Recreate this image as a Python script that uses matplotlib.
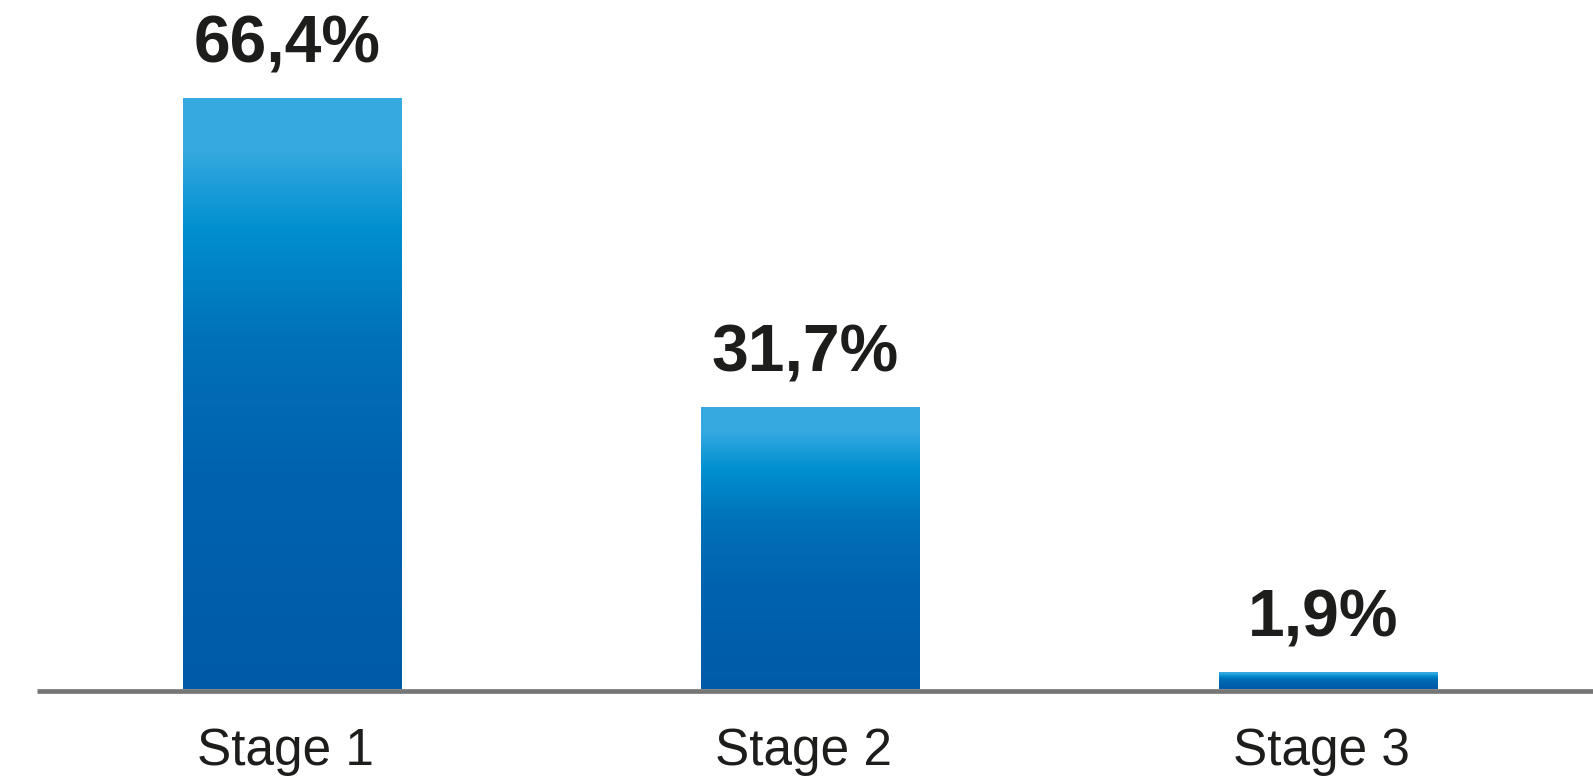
import numpy as np
import matplotlib
matplotlib.use("Agg")
import matplotlib.pyplot as plt
from matplotlib.colors import LinearSegmentedColormap
from matplotlib.transforms import offset_copy

# data
stages = ["Stage 1", "Stage 2", "Stage 3"]
shares = [66.4, 31.7, 1.9]
share_labels = ["66,4%", "31,7%", "1,9%"]

plt.rcParams['font.family'] = ['Liberation Sans', 'DejaVu Sans']
text_color = '#1d1d1b'

# top -> bottom gradient of each bar
grad = LinearSegmentedColormap.from_list(
    'bar_grad',
    [(0.0, '#36aae1'), (0.09, '#35a9e0'), (0.22, '#0090d0'),
     (0.41, '#0071b9'), (0.63, '#0063b0'), (1.0, '#005aa7')])

W, H = 1593, 782
fig = plt.figure(figsize=(W / 100, H / 100), dpi=100)
ax = fig.add_axes([0, 93 / H, 1, 689 / H])

x = np.arange(len(stages))
px_step = 518.0
x0_px = 292.5
ax.set_xlim(-x0_px / px_step, (W - x0_px) / px_step)
ax.set_ylim(0, 77.4)

bar_w = 219 / px_step
bars = ax.bar(x, shares, width=bar_w, color='none', edgecolor='none')
g = np.linspace(0, 1, 256).reshape(-1, 1)
for b in bars:
    x_left, h = b.get_x(), b.get_height()
    im = ax.imshow(g, cmap=grad, aspect='auto', interpolation='bicubic',
                   extent=[x_left, x_left + b.get_width(), 0, h], origin='upper', zorder=2)
    im.set_clip_path(b)

ax.set_xlim(-x0_px / px_step, (W - x0_px) / px_step)
ax.set_ylim(0, 77.4)

# baseline, sitting just under the bars
base_tr = offset_copy(ax.get_yaxis_transform(), fig=fig, y=-1.6, units='points')
ax.plot([37 / W, 1], [0, 0], transform=base_tr, color='#767676', lw=3.4,
        solid_capstyle='butt', clip_on=False, zorder=3)

for xi, v, lab in zip(x, shares, share_labels):
    ax.annotate(lab, (xi, v), xytext=(-4, 25.5), textcoords='offset points',
                ha='center', va='baseline', fontsize=47.5, fontweight='bold', color=text_color)

trans = offset_copy(ax.get_xaxis_transform(), fig=fig, x=-5, y=-54.5, units='points')
for xi, s in zip(x, stages):
    ax.text(xi, 0, s, transform=trans, ha='center', va='baseline',
            fontsize=37, color=text_color)

ax.axis('off')
fig.savefig('out.png', dpi=100)
